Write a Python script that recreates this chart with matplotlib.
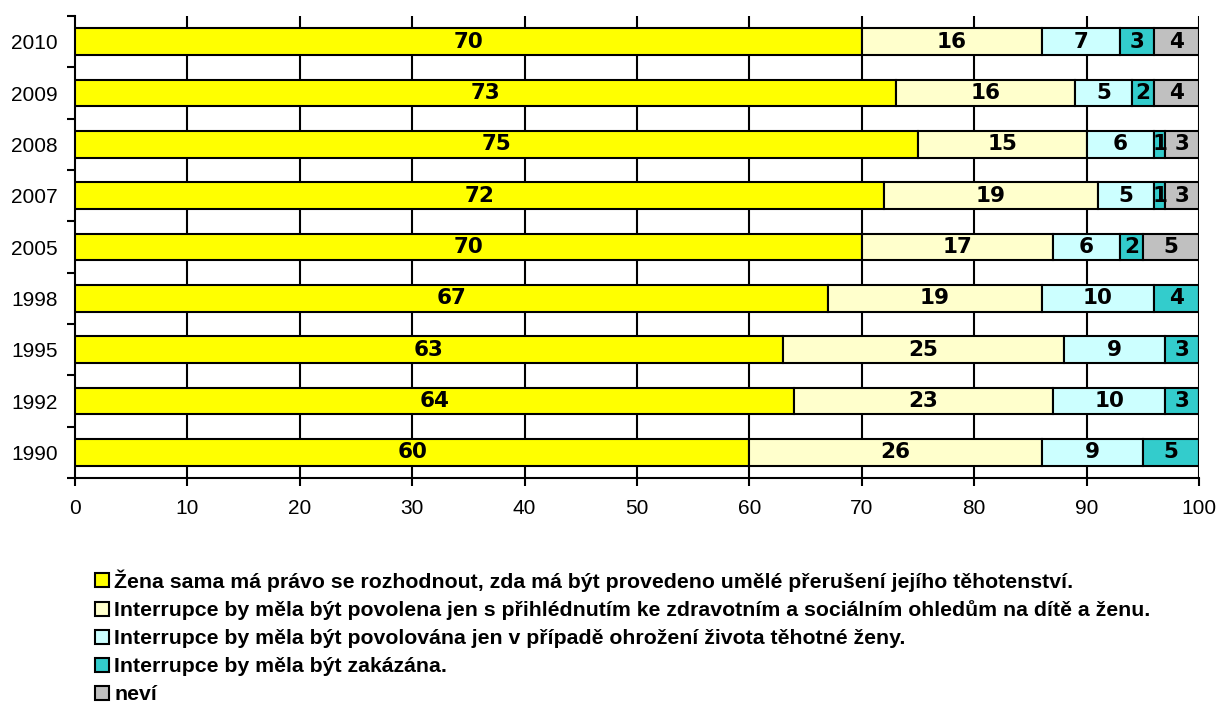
import matplotlib.pyplot as plt
from matplotlib.patches import Patch
import numpy as np

years = ['1990', '1992', '1995', '1998', '2005', '2007', '2008', '2009', '2010']
sama = [60, 64, 63, 67, 70, 72, 75, 73, 70]
ohledy = [26, 23, 25, 19, 17, 19, 15, 16, 16]
ohrozeni = [9, 10, 9, 10, 6, 5, 6, 5, 7]
zakazana = [5, 3, 3, 4, 2, 1, 1, 2, 3]
nevi = [0, 0, 0, 0, 5, 3, 3, 4, 4]

labels = [
    'Žena sama má právo se rozhodnout, zda má být provedeno umělé přerušení jejího těhotenství.',
    'Interrupce by měla být povolena jen s přihlédnutím ke zdravotním a sociálním ohledům na dítě a ženu.',
    'Interrupce by měla být povolována jen v případě ohrožení života těhotné ženy.',
    'Interrupce by měla být zakázána.',
    'neví',
]
colors = ['#FFFF00', '#FFFFCC', '#CCFFFF', '#33CCCC', '#C0C0C0']

series = [sama, ohledy, ohrozeni, zakazana, nevi]

fig = plt.figure(figsize=(12.18, 7.16), dpi=100)
ax = fig.add_axes([75 / 1218, 1 - 478 / 716, (1199 - 75) / 1218, (478 - 16) / 716])

y = np.arange(len(years))
left = np.zeros(len(years))
for vals, col in zip(series, colors):
    vals = np.array(vals, dtype=float)
    bars = ax.barh(y, vals, left=left, height=0.52, color=col,
                   edgecolor='black', linewidth=1.5, zorder=3)
    for b, v in zip(bars, vals):
        if v > 0:
            ax.text(b.get_x() + b.get_width() / 2, b.get_y() + b.get_height() / 2,
                    '%d' % v, ha='center', va='center', fontsize=15.5,
                    fontweight='bold', family='DejaVu Sans', zorder=4)
    left += vals

ax.set_xlim(0, 100)
ax.set_ylim(-0.5, 8.5)
ax.set_xticks(range(0, 101, 10))
ax.set_xticklabels([str(v) for v in range(0, 101, 10)], fontsize=15, family='Liberation Sans')
ax.set_yticks(y)
ax.set_yticklabels(years, fontsize=15, family='Liberation Sans')
ax.set_yticks(np.arange(-0.5, 9, 1), minor=True)
ax.tick_params(axis='y', which='major', length=0, pad=12.5)
ax.tick_params(axis='y', which='minor', length=6, width=1.5, direction='out')
ax.tick_params(axis='x', length=6, width=1.5, direction='out', pad=9)

for xv in range(10, 101, 10):
    ax.axvline(xv, color='black', linewidth=1.5, zorder=1)

for s in ['top', 'right']:
    ax.spines[s].set_visible(False)
ax.spines['left'].set_linewidth(1.5)
ax.spines['bottom'].set_linewidth(1.5)

handles = [Patch(facecolor=c, edgecolor='black', linewidth=1.5) for c in colors]
fig.legend(handles, labels, loc='upper left', bbox_to_anchor=(95 / 1218, 1 - 569 / 716),
           frameon=False, borderpad=0, borderaxespad=0,
           handlelength=0.65, handleheight=0.65, handletextpad=0.25,
           labelspacing=0.42, prop={'family': 'Liberation Sans', 'weight': 'bold', 'size': 15.3})

fig.savefig('out.png', dpi=100)
